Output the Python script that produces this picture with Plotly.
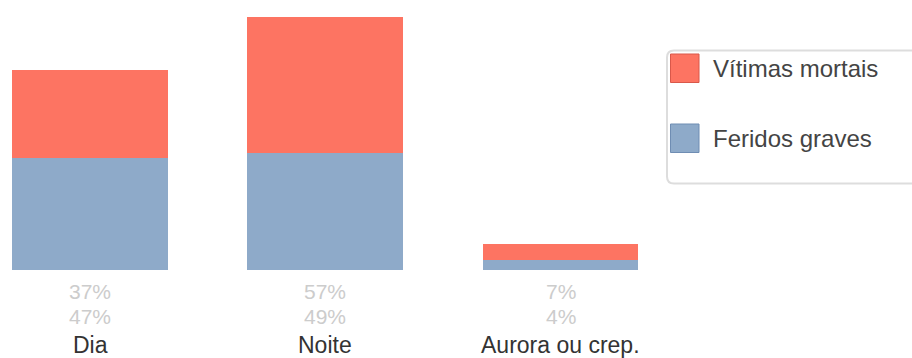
import plotly.graph_objects as go

# Data
categories = ["Dia", "Noite", "Aurora ou crep."]
series_names = ["Vítimas mortais", "Feridos graves"]
vitimas_mortais = [37, 57, 7]
feridos_graves = [47, 49, 4]

RED = "#fd7462"
BLUE = "#8eaac9"
RED_EDGE = "#d9584a"
BLUE_EDGE = "#6f8db3"

W, H = 912, 358
FONT = "Liberation Sans, Arial, sans-serif"

x_pos = list(range(len(categories)))

# pixel scale helpers (margins are zero, so paper coords map to pixels)
def px(x):
    return x / W

def py(y):
    return (H - y) / H

unit_px = 2.385          # pixels per percentage point
base_px = 270            # baseline position from the top
step_px = 235.25         # distance between category centres
first_px = 90            # centre of the first category

fig = go.Figure()
fig.add_trace(go.Bar(
    x=x_pos, y=feridos_graves, name=series_names[1],
    marker=dict(color=BLUE, line=dict(width=0)), width=0.663, showlegend=False,
))
fig.add_trace(go.Bar(
    x=x_pos, y=vitimas_mortais, name=series_names[0],
    marker=dict(color=RED, line=dict(width=0)), width=0.663, showlegend=False,
))

annotations = []
for i, cat in enumerate(categories):
    annotations.append(dict(
        x=i, xref="x", y=py(291), yref="paper", yanchor="middle",
        text=f"{vitimas_mortais[i]}%", showarrow=False,
        font=dict(family=FONT, size=21, color="#cccccc"),
    ))
    annotations.append(dict(
        x=i, xref="x", y=py(316), yref="paper", yanchor="middle",
        text=f"{feridos_graves[i]}%", showarrow=False,
        font=dict(family=FONT, size=21, color="#cccccc"),
    ))
    annotations.append(dict(
        x=i, xref="x", y=py(345), yref="paper", yanchor="middle",
        text=cat, showarrow=False,
        font=dict(family=FONT, size=23, color="#333333"),
    ))

# Legend drawn by hand: rounded frame, swatches and labels
r = 7
left, top, bottom, right = 667, 50.5, 183.5, 930
frame = (f"M {px(right)},{py(top)} L {px(left + r)},{py(top)} "
         f"Q {px(left)},{py(top)} {px(left)},{py(top + r)} "
         f"L {px(left)},{py(bottom - r)} "
         f"Q {px(left)},{py(bottom)} {px(left + r)},{py(bottom)} "
         f"L {px(right)},{py(bottom)}")
shapes = [dict(type="path", path=frame, xref="paper", yref="paper",
               line=dict(color="#dddddd", width=2))]

legend_items = [(series_names[0], RED, RED_EDGE, 54, 82.5),
                (series_names[1], BLUE, BLUE_EDGE, 124, 152.5)]
for name, fill, edge, y0, y1 in legend_items:
    shapes.append(dict(type="rect", xref="paper", yref="paper",
                       x0=px(670.5), x1=px(699), y0=py(y1), y1=py(y0),
                       fillcolor=fill, line=dict(color=edge, width=1)))
    annotations.append(dict(
        x=px(711), xref="paper", xanchor="left",
        y=py((y0 + y1) / 2), yref="paper", yanchor="middle",
        text=name, showarrow=False,
        font=dict(family=FONT, size=24, color="#444444"),
    ))

fig.update_layout(
    width=W, height=H,
    margin=dict(l=0, r=0, t=0, b=0),
    barmode="stack",
    bargap=0,
    paper_bgcolor="white", plot_bgcolor="white",
    xaxis=dict(range=[-first_px / step_px, (W - first_px) / step_px],
               visible=False, fixedrange=True),
    yaxis=dict(range=[-(H - base_px) / unit_px, base_px / unit_px],
               visible=False, fixedrange=True),
    annotations=annotations,
    shapes=shapes,
)

fig.write_html("out.html")
